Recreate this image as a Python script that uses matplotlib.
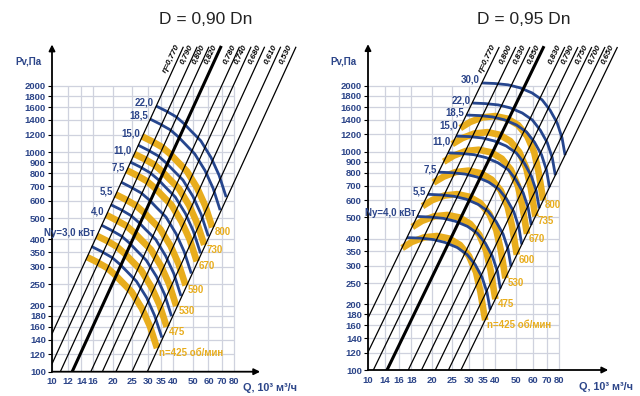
import matplotlib
matplotlib.use("Agg")
import matplotlib.pyplot as plt

plt.rcParams["font.family"] = ["Liberation Sans", "DejaVu Sans"]

NAVY = "#2c4589"
GOLD = "#e8ad1d"
BLUE = "#26468e"
GRID = "#cfd2de"

# axis ticks
y_ticks = [100, 120, 140, 160, 180, 200, 250, 300, 350, 400, 500, 600, 700,
           800, 900, 1000, 1200, 1400, 1600, 1800, 2000]
x_ticks = [10, 12, 14, 16, 20, 25, 30, 35, 40, 50, 60, 70, 80]
x_labels_a = ["10", "12", "14", "16", "20", "25", "30", "35", "40", "50", "60", "70", "80"]
x_labels_b = ["10", "14", "16", "18", "20", "25", "30", "35", "40", "50", "60", "70", "80"]

# efficiency lines: Q (10^3 m3/h) at 100 Pa and at 3000 Pa
eta_a = ["η=0,770", "0,790", "0,800", "0,820", "0,780", "0,740", "0,680", "0,610", "0,530"]
eta_lo_a = [8.2, 9.6, 11.0, 12.6, 15.6, 17.8, 20.8, 25.0, 29.8]
eta_hi_a = [44.9, 52.6, 60.2, 69.0, 85.4, 97.5, 113.9, 136.9, 163.2]
eta_b = ["η=0,770", "0,800", "0,830", "0,850", "0,830", "0,790", "0,750", "0,700", "0,650"]
eta_lo_b = [7.6, 9.1, 10.6, 12.3, 15.5, 17.9, 20.8, 24.0, 27.5]
eta_hi_b = [41.6, 49.8, 58.1, 67.4, 84.9, 98.0, 113.9, 131.5, 150.6]
eta_thick = 3  # the best-efficiency line is drawn heavier

# ---- D = 0,90 Dn : fan curves (y = yellow rpm curve, b = blue) ----
kind_a = ["y", "b", "y", "b", "y", "b", "y", "b", "y", "b", "y", "b", "y", "b", "b"]
ny_a = ["", "", "Ny=3,0 кВт", "", "4,0", "", "5,5", "", "7,5", "", "11,0", "", "15,0", "18,5", "22,0"]
rpm_a = ["n=425 об/мин", "", "475", "", "530", "", "590", "", "670", "", "730", "", "800", "", ""]
q_a = [
    [14.9, 16.7, 18.8, 20.6, 22.3, 24.9, 28.0, 30.7, 33.3],
    [15.7, 17.6, 19.9, 21.8, 23.6, 26.3, 29.6, 32.4, 35.2],
    [16.7, 18.7, 21.0, 23.0, 24.9, 27.8, 31.3, 34.3, 37.2],
    [17.6, 19.7, 22.2, 24.3, 26.3, 29.4, 33.1, 36.3, 39.3],
    [18.6, 20.8, 23.4, 25.7, 27.8, 31.1, 34.9, 38.3, 41.5],
    [19.6, 22.0, 24.7, 27.1, 29.3, 32.8, 36.8, 40.4, 43.8],
    [20.7, 23.2, 26.1, 28.6, 31.0, 34.6, 38.9, 42.6, 46.2],
    [22.1, 24.7, 27.8, 30.5, 33.0, 36.9, 41.4, 45.4, 49.3],
    [23.5, 26.3, 29.6, 32.5, 35.2, 39.3, 44.1, 48.4, 52.5],
    [24.5, 27.5, 30.9, 33.9, 36.7, 41.0, 46.1, 50.5, 54.8],
    [25.6, 28.7, 32.3, 35.4, 38.3, 42.8, 48.1, 52.7, 57.2],
    [26.8, 30.0, 33.8, 37.0, 40.1, 44.8, 50.3, 55.2, 59.9],
    [28.0, 31.4, 35.4, 38.8, 42.0, 46.9, 52.7, 57.8, 62.7],
    [30.7, 34.4, 38.8, 42.5, 46.0, 51.3, 57.7, 63.3, 68.6],
    [32.9, 36.9, 41.5, 45.5, 49.2, 55.0, 61.8, 67.8, 73.5],
]
p_a = [
    [333, 316, 297, 276, 256, 231, 194, 161, 128],
    [372, 353, 331, 308, 286, 258, 217, 180, 143],
    [416, 395, 371, 345, 320, 289, 242, 201, 160],
    [465, 441, 414, 385, 357, 322, 271, 225, 179],
    [518, 491, 462, 429, 398, 359, 302, 250, 199],
    [576, 547, 514, 477, 443, 400, 336, 279, 221],
    [642, 609, 572, 532, 493, 445, 374, 310, 247],
    [729, 692, 651, 605, 561, 506, 425, 353, 280],
    [828, 785, 738, 686, 636, 574, 482, 400, 318],
    [901, 855, 803, 747, 692, 625, 525, 436, 346],
    [982, 932, 876, 814, 755, 682, 572, 475, 378],
    [1076, 1021, 960, 892, 827, 746, 627, 520, 414],
    [1180, 1120, 1052, 978, 907, 818, 687, 570, 454],
    [1415, 1343, 1262, 1173, 1088, 981, 824, 684, 544],
    [1622, 1539, 1447, 1344, 1247, 1125, 945, 784, 624],
]

# ---- D = 0,95 Dn ----
kind_b = ["y", "b", "y", "b", "y", "b", "y", "b", "y", "b", "y", "b", "y", "b", "b", "b"]
ny_b = ["", "", "", "Ny=4,0 кВт", "", "5,5", "", "7,5", "", "", "11,0", "", "15,0",
        "18,5", "22,0", "30,0"]
rpm_b = ["n=425 об/мин", "", "475", "", "530", "", "600", "", "670", "", "735", "", "800",
         "", "", ""]
q_b = [
    [14.5, 16.1, 18.4, 21.2, 24.2, 27.2, 30.0, 32.4, 34.0, 35.0, 35.8],
    [15.3, 17.6, 20.3, 23.1, 26.4, 29.4, 32.1, 34.6, 36.5, 37.8],
    [16.2, 18.0, 20.6, 23.7, 27.0, 30.4, 33.6, 36.2, 38.0, 39.1, 40.0],
    [17.1, 19.7, 22.7, 25.9, 29.5, 32.9, 35.9, 38.7, 40.9, 42.2],
    [18.1, 20.1, 23.0, 26.4, 30.1, 33.9, 37.5, 40.4, 42.4, 43.7, 44.6],
    [19.2, 22.1, 25.5, 29.1, 33.1, 36.9, 40.3, 43.5, 45.9, 47.4],
    [20.4, 22.8, 26.0, 29.9, 34.1, 38.4, 42.4, 45.7, 48.0, 49.4, 50.5],
    [21.6, 24.9, 28.7, 32.7, 37.2, 41.5, 45.3, 48.9, 51.6, 53.3],
    [22.8, 25.4, 29.0, 33.4, 38.1, 42.9, 47.3, 51.1, 53.6, 55.2, 56.4],
    [23.9, 27.6, 31.7, 36.2, 41.2, 46.0, 50.1, 54.1, 57.1, 59.1],
    [25.0, 27.9, 31.8, 36.7, 41.8, 47.0, 51.9, 56.0, 58.8, 60.5, 61.8],
    [26.1, 30.1, 34.7, 39.5, 45.0, 50.2, 54.8, 59.1, 62.4, 64.5],
    [27.3, 30.4, 34.6, 39.9, 45.5, 51.2, 56.5, 61.0, 64.0, 65.9, 67.3],
    [29.2, 33.6, 38.8, 44.2, 50.3, 56.1, 61.2, 66.1, 69.7, 72.1],
    [31.1, 35.8, 41.3, 47.0, 53.6, 59.8, 65.2, 70.4, 74.3, 76.8],
    [34.6, 39.8, 45.9, 52.3, 59.6, 66.5, 72.5, 78.3, 82.6, 85.4],
]
p_b = [
    [362, 386, 405, 411, 400, 374, 333, 281, 228, 192, 169],
    [404, 402, 396, 384, 364, 338, 304, 266, 227, 189],
    [452, 482, 506, 513, 500, 467, 416, 351, 285, 240, 211],
    [505, 502, 495, 480, 455, 423, 380, 332, 283, 236],
    [563, 600, 630, 639, 622, 582, 518, 437, 355, 299, 263],
    [638, 634, 625, 606, 574, 534, 479, 419, 358, 298],
    [722, 769, 807, 819, 797, 745, 664, 560, 454, 383, 337],
    [806, 801, 790, 766, 725, 674, 605, 530, 452, 376],
    [900, 959, 1007, 1021, 994, 929, 828, 698, 567, 477, 420],
    [988, 982, 969, 939, 889, 827, 742, 649, 554, 461],
    [1083, 1154, 1211, 1229, 1196, 1119, 996, 840, 682, 574, 505],
    [1179, 1173, 1156, 1120, 1062, 987, 886, 775, 661, 550],
    [1283, 1368, 1435, 1456, 1417, 1325, 1180, 996, 808, 680, 599],
    [1472, 1464, 1443, 1399, 1326, 1232, 1106, 968, 825, 687],
    [1671, 1661, 1638, 1588, 1504, 1398, 1255, 1098, 937, 780],
    [2065, 2053, 2025, 1962, 1859, 1728, 1551, 1357, 1158, 964],
]


def panel(ax, eta, lo, hi, x_labels, kinds, nys, rpms, qs, ps, xtip, ytip):
    ax.set_xscale("log")
    ax.set_yscale("log")
    for s in ax.spines.values():
        s.set_visible(False)
    # grid only inside the 10..80 x 100..2000 box
    ax.vlines(x_ticks, 100, 2000, color=GRID, lw=0.9, zorder=0.5)
    ax.hlines(y_ticks, 10, 80, color=GRID, lw=0.9, zorder=0.5)
    ax.set_xticks(x_ticks)
    ax.set_xticklabels(x_labels)
    ax.set_yticks(y_ticks)
    ax.set_yticklabels([str(v) for v in y_ticks])
    ax.minorticks_off()
    ax.tick_params(length=3, width=0.8, pad=1.5, labelsize=6.8, labelcolor=NAVY)
    ax.tick_params(axis="x", length=0, pad=4)
    for t in ax.get_xticklabels() + ax.get_yticklabels():
        t.set_fontweight("bold")
    # arrow axes
    arrow = dict(arrowstyle="-|>", color="k", lw=1.3, mutation_scale=9, shrinkA=0, shrinkB=0)
    ax.annotate("", xy=(xtip, 100), xytext=(10, 100), arrowprops=arrow, annotation_clip=False)
    ax.annotate("", xy=(10, ytip), xytext=(10, 100), arrowprops=arrow, annotation_clip=False)

    for kind, ny, rpm, q, p in zip(kinds, nys, rpms, qs, ps):
        if kind == "y":
            ax.plot(q, p, color=GOLD, lw=4.8, solid_capstyle="butt", zorder=2)
        else:
            ax.plot(q, p, color=BLUE, lw=2.0, solid_capstyle="butt", zorder=3)
        if ny:
            ax.annotate(ny, (q[0], p[0]), xytext=(-2, 3), textcoords="offset pixels",
                        ha="right", va="center", fontsize=7, fontweight="bold", color=NAVY)
        if rpm:
            ax.annotate(rpm, (q[-1], p[-1]), xytext=(2, -5), textcoords="offset pixels",
                        ha="left", va="center", fontsize=7, fontweight="bold", color=GOLD)

    for i in range(len(eta)):
        ax.plot([lo[i], hi[i]], [100, 3000], color="k",
                lw=2.2 if i == eta_thick else 0.9, zorder=4)
        ax.annotate(eta[i], (hi[i], 3000), xytext=(-2, 1), textcoords="offset pixels",
                    rotation=64, rotation_mode="anchor", ha="right", va="bottom",
                    fontsize=6, fontweight="bold", fontstyle="italic", annotation_clip=False)


fig = plt.figure(figsize=(6.4, 3.96), dpi=100)
W, H = 640, 396

ax1 = fig.add_axes([52 / W, (H - 371.7) / H, (310 - 52) / W, (371.7 - 30) / H])
ax1.set_xlim(10, 192)
ax1.set_ylim(100, 3597)
panel(ax1, eta_a, eta_lo_a, eta_hi_a, x_labels_a, kind_a, ny_a, rpm_a, q_a, p_a, 108.5, 3090)

ax2 = fig.add_axes([368 / W, (H - 370) / H, (640 - 368) / W, (370 - 30) / H])
ax2.set_xlim(10, 193)
ax2.set_ylim(100, 3610)
panel(ax2, eta_b, eta_lo_b, eta_hi_b, x_labels_b, kind_b, ny_b, rpm_b, q_b, p_b, 136.6, 3110)

fig.text(206 / W, 1 - 19 / H, "D = 0,90 Dn", ha="center", va="center", fontsize=12.5,
         color="#222222")
fig.text(524 / W, 1 - 19 / H, "D = 0,95 Dn", ha="center", va="center", fontsize=12.5,
         color="#222222")
for x in (28, 343):
    fig.text(x / W, 1 - 62 / H, "Pv,Па", ha="center", va="center", fontsize=7,
             fontweight="bold", color=NAVY)
fig.text(270 / W, 1 - 388 / H, "Q, 10³ м³/ч", ha="center", va="center", fontsize=7.8,
         fontweight="bold", color=NAVY)
fig.text(606 / W, 1 - 387 / H, "Q, 10³ м³/ч", ha="center", va="center", fontsize=7.8,
         fontweight="bold", color=NAVY)

fig.savefig("out.png", dpi=100)
